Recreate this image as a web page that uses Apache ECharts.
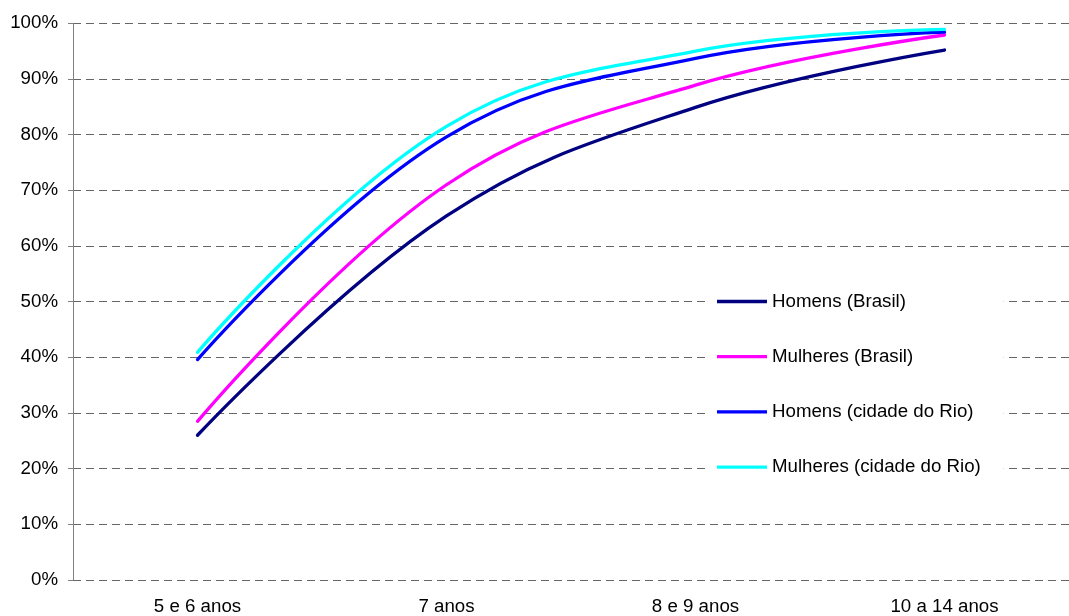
<!DOCTYPE html>
<html>
<head>
<meta charset="utf-8">
<script src="https://cdn.jsdelivr.net/npm/echarts@6/dist/echarts.min.js"></script>
<style>
html,body{margin:0;padding:0;background:#fff;}
#chart{width:1069px;height:616px;}
</style>
</head>
<body>
<div id="chart"></div>
<script>
const categories = ['5 e 6 anos', '7 anos', '8 e 9 anos', '10 a 14 anos'];
const homensBrasil = [26.0, 65.4, 84.9, 95.2];
const mulheresBrasil = [28.5, 71.0, 88.9, 97.9];
const homensRio = [39.6, 79.6, 93.7, 98.4];
const mulheresRio = [40.9, 81.5, 95.0, 98.9];
const seriesNames = ['Homens (Brasil)', 'Mulheres (Brasil)', 'Homens (cidade do Rio)', 'Mulheres (cidade do Rio)'];
const seriesColors = ['#000080', '#FF00FF', '#0000FF', '#00FFFF'];
const seriesData = [homensBrasil, mulheresBrasil, homensRio, mulheresRio];

const font = 'Liberation Sans, Arial, sans-serif';
const chart = echarts.init(document.getElementById('chart'), null, {renderer: 'canvas'});
chart.setOption({
  animation: false,
  backgroundColor: '#ffffff',
  grid: {left: 73, top: 23.3, width: 1004, height: 558.4, containLabel: false},
  legend: {
    orient: 'vertical',
    left: 706,
    top: 280,
    padding: [12, 23, 12, 11],
    backgroundColor: '#ffffff',
    icon: 'rect',
    itemWidth: 50,
    itemHeight: 3.3,
    itemGap: 36.2,
    textStyle: {fontFamily: font, fontSize: 18.7, color: '#000'},
    data: seriesNames
  },
  xAxis: {
    type: 'category',
    data: categories,
    boundaryGap: true,
    axisLine: {show: false},
    axisTick: {show: false},
    axisLabel: {fontFamily: font, fontSize: 18.7, color: '#000', margin: 17}
  },
  yAxis: {
    type: 'value',
    min: 0, max: 100, interval: 10,
    axisLine: {show: true, lineStyle: {color: '#808080', width: 1}},
    axisTick: {show: true, length: 5, lineStyle: {color: '#808080'}},
    axisLabel: {formatter: '{value}%', fontFamily: font, fontSize: 18.7, color: '#000', margin: 15},
    splitLine: {show: true, lineStyle: {color: '#666666', width: 1, type: [8, 5]}}
  },
  series: seriesNames.map((n, i) => ({
    name: n,
    type: 'line',
    data: seriesData[i],
    smooth: 0.4,
    symbol: 'none',
    color: seriesColors[i],
    lineStyle: {width: 3.3, color: seriesColors[i], cap: 'round'}
  }))
});
</script>
</body>
</html>
